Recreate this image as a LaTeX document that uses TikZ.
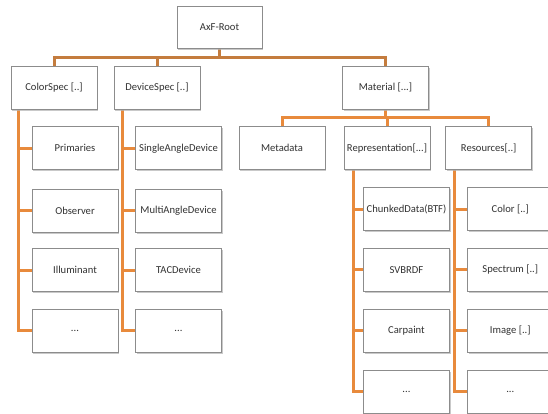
\documentclass[tikz,border=0pt]{standalone}
\usepackage{fontspec}
\setmainfont{Carlito}
\usetikzlibrary{shadows,backgrounds}
\definecolor{busbrown}{RGB}{196,124,62}
\definecolor{linkorange}{RGB}{232,138,60}
\definecolor{boxedge}{RGB}{140,140,140}
\definecolor{labelgray}{RGB}{50,50,50}

\begin{document}
\begin{tikzpicture}[x=1pt,y=-1pt,
  box/.style={draw=boxedge, line width=0.8pt, fill=white,
    minimum width=86pt, minimum height=43pt, inner sep=1pt,
    text=labelgray, font=\fontsize{10.6}{12}\selectfont,
    drop shadow={shadow xshift=1.3pt, shadow yshift=-1.6pt, fill=black!30, opacity=0.7}},
  topline/.style={draw=busbrown, line width=3pt},
  link/.style={draw=linkorange, line width=3pt},
]
\clip (0,0) rectangle (548,414);

% root and first level
\node[box, minimum width=85pt, minimum height=42pt] (root) at (219.5,27) {AxF-Root};
\node[box] (colorspec)  at (54,87.5)    {ColorSpec [..]};
\node[box] (devicespec) at (157,87.5)   {DeviceSpec [..]};
\node[box] (material)   at (385.5,87.5) {Material [...]};

% material children
\node[box] (metadata)       at (282,148.3)   {Metadata};
\node[box] (representation) at (387,148.3)   {Representation[...]};
\node[box] (resources)      at (488.7,148.3) {Resources[..]};

% colour specification entries
\node[box] (cs1) at (75,148.3) {Primaries};
\node[box] (cs2) at (75,210.7) {Observer};
\node[box] (cs3) at (75,270)   {Illuminant};
\node[box] (cs4) at (75,330.7) {...};

% device specification entries
\node[box] (dv1) at (178.5,148.3) {SingleAngleDevice};
\node[box] (dv2) at (178.5,210.7) {MultiAngleDevice};
\node[box] (dv3) at (178.5,270)   {TACDevice};
\node[box] (dv4) at (178.5,330.7) {...};

% representation entries
\node[box] (rp1) at (406.5,209)   {ChunkedData(BTF)};
\node[box] (rp2) at (406.5,269.7) {SVBRDF};
\node[box] (rp3) at (406.5,330.7) {Carpaint};
\node[box] (rp4) at (406.5,391.7) {...};

% resource entries
\node[box] (rs1) at (510.3,209)   {Color [..]};
\node[box] (rs2) at (510.3,269.7) {Spectrum [..]};
\node[box] (rs3) at (510.3,330.7) {Image [..]};
\node[box] (rs4) at (510.3,391.7) {...};

\begin{scope}[on background layer]
  % top bus
  \draw[topline] (root.south) -- ++(0,9.5) coordinate (rootbus);
  \draw[topline] (rootbus) -| (colorspec.north);
  \draw[topline] (rootbus) -| (devicespec.north);
  \draw[topline] (rootbus) -| (material.north);

  % material bus
  \draw[link] (material.south) -- ++(0,8.5) coordinate (matbus);
  \draw[link] (matbus) -| (metadata.north);
  \draw[link] (matbus) -| (representation.north);
  \draw[link] (matbus) -| (resources.north);

  % side spines
  \coordinate (csspine) at ([xshift=8.3pt]colorspec.south west);
  \coordinate (dvspine) at ([xshift=8.5pt]devicespec.south west);
  \coordinate (rpspine) at ([xshift=10pt]representation.south west);
  \coordinate (rsspine) at ([xshift=9.4pt]resources.south west);
  \foreach \p/\c in {csspine/cs, dvspine/dv, rpspine/rp, rsspine/rs}{
    \draw[link] (\p) |- (\c4.west);
    \foreach \i in {1,2,3}{
      \draw[link] (\p) |- (\c\i.west);
    }
  }
\end{scope}
\end{tikzpicture}
\end{document}
